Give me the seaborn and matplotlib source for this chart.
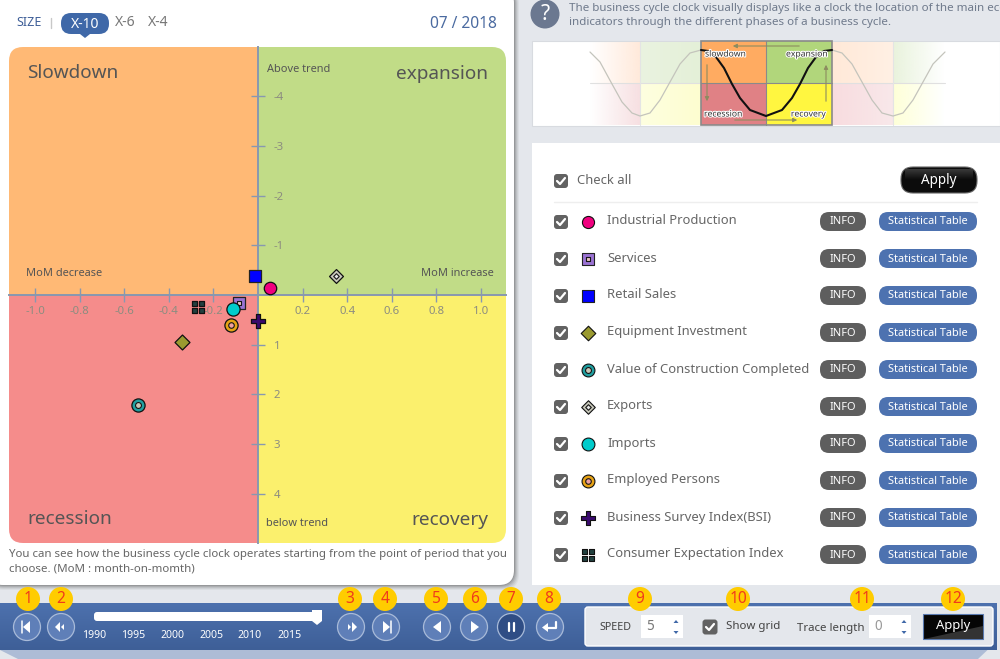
import numpy as np
import pandas as pd
import matplotlib
matplotlib.use("Agg")
import matplotlib.pyplot as plt
import matplotlib.patheffects as pe
from matplotlib.patches import Rectangle, FancyBboxPatch, Circle, Polygon
from matplotlib.path import Path
from matplotlib.transforms import Affine2D
import seaborn as sns

# chart data
indicators = ["Industrial Production", "Services", "Retail Sales", "Equipment Investment",
              "Value of Construction Completed", "Exports", "Imports", "Employed Persons",
              "Business Survey Index(BSI)", "Consumer Expectation Index"]
mom_change = [0.056, -0.085, -0.013, -0.34, -0.54, 0.35, -0.11, -0.12, 0.0, -0.27]
trend_gap = [-0.14, 0.16, -0.38, 0.95, 2.21, -0.38, 0.28, 0.60, 0.52, 0.24]

x_ticks = [-1.0, -0.8, -0.6, -0.4, -0.2, 0.2, 0.4, 0.6, 0.8, 1.0]
x_tick_labels = ["-1.0", "-0.8", "-0.6", "-0.4", "-0.2", "0.2", "0.4", "0.6", "0.8", "1.0"]
y_ticks = [-4, -3, -2, -1, 1, 2, 3, 4]
y_tick_labels = ["-4", "-3", "-2", "-1", "1", "2", "3", "4"]
slider_years = ["1990", "1995", "2000", "2005", "2010", "2015"]

# thumbnail curve (pixels)
thumb_x = [701, 708, 716, 724, 732, 740, 750, 766, 782, 792, 800, 808, 816, 824, 832]
thumb_y = [50, 51, 57, 68, 84, 98, 110, 116, 110, 98, 84, 68, 57, 51, 50]
ghost_left_x = [590, 600, 612, 622, 632, 640, 650, 660, 670, 680, 690, 701]
ghost_left_y = [52, 62, 84, 102, 113, 116, 113, 100, 82, 64, 53, 50]
ghost_right_x = [832, 842, 852, 862, 872, 882, 893, 903, 913, 923, 933, 945]
ghost_right_y = [50, 53, 64, 82, 100, 113, 116, 113, 100, 82, 64, 52]

quad_colors = {"slow": "#ffb975", "exp": "#c1dc87", "rec": "#f58c8b", "recov": "#fbf06d"}
BLUE = "#4a6ca6"
GREY_TXT = "#6b6b6b"

sns.set_theme(style="white")
plt.rcParams['font.family'] = ['Noto Sans', 'DejaVu Sans']

fig = plt.figure(figsize=(10, 6.59), dpi=100, facecolor="#e4e7ec")
ui = fig.add_axes([0, 0, 1, 1], zorder=1)
ui.set_axis_off()
ui.set_xlim(0, 1000)
ui.set_ylim(659, 0)


def txt(x, y, s, px=13, color=GREY_TXT, ha="left", va="center", weight="normal", axes=ui, **kw):
    return axes.text(x, y, s, fontsize=px * 0.72, color=color, ha=ha, va=va, fontweight=weight, **kw)


def box(x0, y0, x1, y1, color, radius=0, edge="none", lw=0, z=2):
    if radius:
        p = FancyBboxPatch((x0, y0), x1 - x0, y1 - y0, boxstyle=f"round,pad=0,rounding_size={radius}",
                           fc=color, ec=edge, lw=lw, zorder=z)
    else:
        p = Rectangle((x0, y0), x1 - x0, y1 - y0, fc=color, ec=edge, lw=lw, zorder=z)
    ui.add_patch(p)
    return p


def gradient(x0, y0, x1, y1, c0, c1, horizontal=False, z=2):
    c0 = np.array(matplotlib.colors.to_rgba(c0))
    c1 = np.array(matplotlib.colors.to_rgba(c1))
    t = np.linspace(0, 1, 64)[:, None]
    img = (c0 * (1 - t) + c1 * t)[None, :, :] if horizontal else (c0 * (1 - t) + c1 * t)[:, None, :]
    return ui.imshow(img, extent=(x0, x1, y1, y0), aspect="auto", zorder=z, interpolation="bilinear")


def checkbox(cx, cy, size=14, z=4):
    box(cx - size / 2, cy - size / 2, cx + size / 2, cy + size / 2, "#626262", radius=3, z=z)
    ui.plot([cx - 4, cx - 1, cx + 4], [cy, cy + 3, cy - 3], color="white", lw=1.6, zorder=z + 1,
            solid_capstyle="round", solid_joinstyle="round")


def poly(points, color, z=6):
    ui.add_patch(Polygon(points, closed=True, fc=color, ec="none", zorder=z))


# background card on the left, with its soft shadow
for grow, alpha in [(5, 0.06), (4, 0.08), (3, 0.1), (2, 0.14), (1, 0.2)]:
    p = box(-12, -12, 514 + grow, 585 + grow, "#404040", radius=16, z=1)
    p.set_alpha(alpha)
box(-12, -12, 514, 585, "white", radius=15, z=1.5)

# header of the card
txt(16, 23, "SIZE", px=12.5, color="#3f5f98", weight="bold")
ui.plot([51, 51], [18, 28], color="#c8c8c8", lw=1, zorder=3)
box(61, 13, 109, 34, "#3f68a8", radius=10, z=3)
poly([(80, 34), (90, 34), (85, 38)], "#3f68a8", z=3)
txt(85, 24, "X-10", px=14, color="white", ha="center", weight="bold", zorder=4)
txt(125, 23, "X-6", px=14, color="#777777", ha="center")
txt(158, 23, "X-4", px=14, color="#777777", ha="center")
txt(497, 24, "07 / 2018", px=15.5, color="#4a6aa0", ha="right")

# four quadrants clipped to the rounded plate
plate = FancyBboxPatch((9, 47), 497, 496, boxstyle="round,pad=0,rounding_size=14", fc="none", ec="none",
                       transform=ui.transData)
ui.add_patch(plate)
for (x0, y0, x1, y1), key in [((9, 47, 258, 295), "slow"), ((258, 47, 506, 295), "exp"),
                              ((9, 295, 258, 543), "rec"), ((258, 295, 506, 543), "recov")]:
    r = box(x0, y0, x1, y1, quad_colors[key], z=2)
    r.set_clip_path(plate)

txt(27, 73, "Slowdown", px=19, color="#555555", zorder=3)
txt(488, 74, "expansion", px=19, color="#555555", ha="right", zorder=3)
txt(27, 519, "recession", px=19, color="#555555", zorder=3)
txt(488, 520, "recovery", px=19, color="#555555", ha="right", zorder=3)
txt(267, 70, "Above trend", px=11, color="#555555", zorder=3)
txt(266, 523, "below trend", px=11, color="#555555", zorder=3)
txt(26, 274, "MoM decrease", px=11, color="#555555", zorder=3)
txt(494, 274, "MoM increase", px=11, color="#555555", ha="right", zorder=3)
txt(9, 555, "You can see how the business cycle clock operates starting from the point of period that you",
    px=11.5, color="#666666")
txt(9, 569, "choose. (MoM : month-on-momth)", px=11.5, color="#666666")

# the clock itself, real axes on top of the plate
clock = fig.add_axes([9 / 1000, 1 - 543 / 659, 497 / 1000, 496 / 659], zorder=2)
clock.patch.set_alpha(0)
clock.set_xlim((9 - 258) / 223, (506 - 258) / 223)
clock.set_ylim((543 - 295) / 49.7, (47 - 295) / 49.7)
for side in ["top", "left"]:
    clock.spines[side].set_visible(False)
clock.spines["bottom"].set_position(("data", 0))
clock.spines["right"].set_position(("data", 0))
for side in ["bottom", "right"]:
    clock.spines[side].set_color("#8898b0")
    clock.spines[side].set_linewidth(1.4)
clock.yaxis.tick_right()
clock.set_xticks(x_ticks, x_tick_labels)
clock.set_yticks(y_ticks, y_tick_labels)
clock.tick_params(axis="x", direction="inout", length=10, width=1, color="#8898b0", pad=3,
                  labelsize=8.2, labelcolor="#8c8c80", bottom=True)
clock.tick_params(axis="y", direction="inout", length=10.5, width=1, color="#8898b0", pad=6,
                  labelsize=8.2, labelcolor="#8c8c80", right=True)

# marker styles, outer then inner glyph
four = Path.make_compound_path(*[Path.unit_rectangle().transformed(Affine2D().translate(dx, dy))
                                 for dx in (-1.2, 0.2) for dy in (-1.2, 0.2)])
outer_marker = ["o", "s", "s", "D", "o", "D", "o", "o", "P", four]
outer_size = [80, 75, 80, 58, 90, 50, 90, 90, 95, 80]
outer_face = ["#f0007f", "#9a72d2", "#0000ff", "#9a9a30", "#1f9fa0", "#c9c9bb", "#00cccc", "#e8a315", "#3a0a6e", "#21403f"]
outer_edge = ["#101010", "#222222", "#222222", "#101010", "#101010", "#101010", "#101010", "#101010", "#101010", "#101010"]
inner_marker = [None, "s", None, None, "o", "D", None, "o", None, None]
inner_size = [0, 12, 0, 0, 18, 8, 0, 16, 0, 0]
inner_face = [None, "#e8c4c4", None, None, "#c8c8b8", "#e8e8e8", None, "#f0a0a0", None, None]

points = pd.DataFrame({"indicator": indicators, "x": mom_change, "y": trend_gap})
for i, row in points.iterrows():
    sns.scatterplot(x=[row.x], y=[row.y], marker=outer_marker[i], s=outer_size[i], color=outer_face[i],
                    edgecolor=outer_edge[i], linewidth=0.9, zorder=5 + i, clip_on=False, ax=clock)
    if inner_marker[i]:
        sns.scatterplot(x=[row.x], y=[row.y], marker=inner_marker[i], s=inner_size[i], color=inner_face[i],
                        edgecolor="#151515", linewidth=0.8, zorder=5.5 + i, clip_on=False, ax=clock)
clock.set_xlabel("")
clock.set_ylabel("")
clock.set_xlim((9 - 258) / 223, (506 - 258) / 223)
clock.set_ylim((543 - 295) / 49.7, (47 - 295) / 49.7)
clock.grid(False)

# help text + thumbnail
ui.add_patch(Circle((545, 14), 14.5, fc="#6b7890", ec="none", zorder=3))
txt(545, 14, "?", px=21, color="white", ha="center", weight="bold", zorder=4)
txt(569, 8, "The business cycle clock visually displays like a clock the location of the main economic",
    px=11.6, color="#6f7a8c", clip_on=True)
txt(569, 22, "indicators through the different phases of a business cycle.", px=11.6, color="#6f7a8c")

box(532, 41, 1000, 126, "white", edge="#d8dbe0", lw=0.8, z=1.5)
gradient(590, 42, 640, 83, "#ffeadb00", "#ffeadb", horizontal=True)
gradient(590, 83, 640, 125, "#f7e0e200", "#f7e0e2", horizontal=True)
gradient(640, 42, 701, 83, "#eaf3e0", "#e4f0d8", horizontal=True)
gradient(640, 83, 701, 125, "#feffe0", "#fdfdd0", horizontal=True)
gradient(832, 42, 893, 83, "#ffe9d8", "#fff0e4", horizontal=True)
gradient(832, 83, 893, 125, "#f8dcdf", "#f8e8ea", horizontal=True)
gradient(893, 42, 945, 83, "#e9f3dd", "#e9f3dd00", horizontal=True)
gradient(893, 83, 945, 125, "#feffd8", "#feffd800", horizontal=True)
ui.plot([590, 945], [83, 83], color="#e0e0e0", lw=0.8, zorder=2.5)
ui.plot([640, 640], [42, 125], color="#e4e4e4", lw=0.8, zorder=2.5)
ui.plot([893, 893], [42, 125], color="#e4e4e4", lw=0.8, zorder=2.5)
box(701, 41, 766, 83, "#ffab61", z=3)
box(766, 41, 832, 83, "#b1d67b", z=3)
box(701, 83, 766, 125, "#e08185", z=3)
box(766, 83, 832, 125, "#fff640", z=3)
box(701, 41, 832, 125, "none", edge="#8a8a8a", lw=1.2, z=3.5)
ui.plot([701, 832], [83, 83], color="#8a8a8a", lw=0.8, zorder=3.5)
ui.plot([766, 766], [41, 125], color="#8a8a8a", lw=0.8, zorder=3.5)
sns.lineplot(x=ghost_left_x, y=ghost_left_y, color="#c4c4bc", lw=0.9, sort=False, zorder=3, ax=ui)
sns.lineplot(x=ghost_right_x, y=ghost_right_y, color="#c4c4bc", lw=0.9, sort=False, zorder=3, ax=ui)
sns.lineplot(x=thumb_x, y=thumb_y, color="#111111", lw=1.5, sort=False, zorder=4, ax=ui)
halo = [pe.withStroke(linewidth=1.5, foreground="white")]
for tx, ty, s, ha in [(705, 54, "slowdown", "left"), (828, 54, "expansion", "right"),
                      (704, 114, "recession", "left"), (826, 114, "recovery", "right")]:
    txt(tx, ty, s, px=8.6, color="#333333", ha=ha, zorder=5, path_effects=halo)
for a, b in [((802, 46), (730, 46)), ((707, 62), (707, 104)), ((732, 120), (800, 120)), ((826, 104), (826, 62))]:
    ui.annotate("", xy=b, xytext=a, zorder=4,
                arrowprops=dict(arrowstyle="-|>", color="#8c8c60", lw=0.8, mutation_scale=6))

# indicator list
box(532, 143, 1000, 585, "white", z=1.5)
checkbox(561, 181)
txt(577, 180, "Check all", px=13, color="#666666")
box(901, 167, 977, 193, "#0c0c0c", radius=12, edge="#666666", lw=0.8, z=3)
gradient(905, 169, 973, 180, "#3a3a3a", "#0a0a0a", z=3.2)
txt(939, 180, "Apply", px=13.5, color="white", ha="center", weight="bold", zorder=4)
ui.plot([554, 977], [202, 202], color="#eeeeee", lw=1, zorder=3)

for i, name in enumerate(indicators):
    row_y = 221.5 + i * 37
    checkbox(561, row_y + 0.5)
    txt(607, row_y - 0.5, name, px=13, color="#666666")
    box(820, row_y - 9.5, 866, row_y + 9.5, "#5e5e5e", radius=9, z=3)
    txt(843, row_y + 0.5, "INFO", px=11, color="white", ha="center", zorder=4)
    box(879, row_y - 9.5, 977, row_y + 9.5, "#4d72b0", radius=9, z=3)
    txt(928, row_y + 0.5, "Statistical Table", px=11, color="white", ha="center", zorder=4)
    sns.scatterplot(x=[588], y=[row_y], marker=outer_marker[i], s=outer_size[i] * 0.95, color=outer_face[i],
                    edgecolor=outer_edge[i], linewidth=0.8, zorder=4, ax=ui)
    if inner_marker[i]:
        sns.scatterplot(x=[588], y=[row_y], marker=inner_marker[i], s=inner_size[i], color=inner_face[i],
                        edgecolor="#151515", linewidth=0.8, zorder=4.5, ax=ui)

# bottom control strip
poly([(0, 650), (997, 650), (997, 641), (978, 659), (18, 659)], "#adbcd6", z=1.2)
gradient(0, 603, 997, 650, "#4d71ae", "#3e5f97", z=1.3)

nav_x = [27, 61, 351, 386, 437, 474, 511, 550]
number_x = [28, 61, 350, 385, 436, 475, 511, 549, 640, 738, 862, 953]
for cx in nav_x:
    face = "#2f4d85" if cx == 511 else "#5f7fb8"
    ui.add_patch(Circle((cx, 627), 13.5, fc=face, ec="#a9bbd9", lw=0.9, zorder=3))
cy = 627
poly([(30, cy - 6), (30, cy + 6), (23, cy)], "white")
ui.plot([22, 22], [cy - 6, cy + 6], color="white", lw=1.1, zorder=6)
poly([(60, cy - 5), (60, cy + 5), (55, cy)], "white")
poly([(64, cy - 3), (64, cy + 3), (61, cy)], "white")
poly([(352, cy - 5), (352, cy + 5), (357, cy)], "white")
poly([(348, cy - 3), (348, cy + 3), (351, cy)], "white")
poly([(383, cy - 6), (383, cy + 6), (390, cy)], "white")
ui.plot([391, 391], [cy - 6, cy + 6], color="white", lw=1.1, zorder=6)
poly([(441, cy - 6), (441, cy + 6), (433, cy)], "white")
poly([(471, cy - 6), (471, cy + 6), (479, cy)], "white")
ui.plot([508.5, 508.5], [cy - 4, cy + 4], color="white", lw=1.6, zorder=6)
ui.plot([513.5, 513.5], [cy - 4, cy + 4], color="white", lw=1.6, zorder=6)
ui.plot([556, 556, 546], [cy - 5, cy + 0.5, cy + 0.5], color="white", lw=1.6, zorder=6)
poly([(548, cy - 4), (548, cy + 5), (542, cy + 0.5)], "white")

box(94, 612, 316, 621, "white", radius=3, z=3)
poly([(312, 610), (322, 610), (322, 621), (317, 625), (312, 621)], "white", z=4)
for i, year in enumerate(slider_years):
    txt(94 + i * 39, 636, year, px=10.5, color="white", ha="center", zorder=4)

box(585, 607, 993, 646, "#e4e7ec", radius=3, edge="white", lw=1, z=3)
txt(599, 628, "SPEED", px=10.8, color="#444444", zorder=4)
box(641, 615, 683, 638, "white", z=4)
txt(646, 627, "5", px=13.5, color="#777777", zorder=5)
txt(797, 628, "Trace length", px=11.5, color="#444444", zorder=4)
box(869, 615, 911, 638, "white", z=4)
txt(874, 627, "0", px=13.5, color="#999999", zorder=5)
for sx in (676, 904):
    poly([(sx - 2.5, 623), (sx + 2.5, 623), (sx, 620)], "#3f68a8")
    poly([(sx - 2.5, 631), (sx + 2.5, 631), (sx, 634)], "#3f68a8")
checkbox(710, 627, size=15)
txt(726, 627, "Show grid", px=11.5, color="#444444", zorder=4)
box(923, 614, 983, 639, "#050505", edge="#5a7ab0", lw=0.8, z=4)
poly([(923.5, 638.5), (982.5, 638.5), (982.5, 626)], "#333333", z=4.2)
txt(953, 626, "Apply", px=13, color="white", ha="center", weight="bold", zorder=5)

for n, cx in enumerate(number_x, start=1):
    ui.add_patch(Circle((cx, 599), 12, fc="#ffcc00", ec="none", zorder=7))
    txt(cx, 599, str(n), px=15.5, color="#f03a1c", ha="center", zorder=8)

ui.set_xlim(0, 1000)
ui.set_ylim(659, 0)
ui.set_xlabel("")
ui.set_ylabel("")
fig.savefig("out.png", dpi=100, facecolor=fig.get_facecolor())
